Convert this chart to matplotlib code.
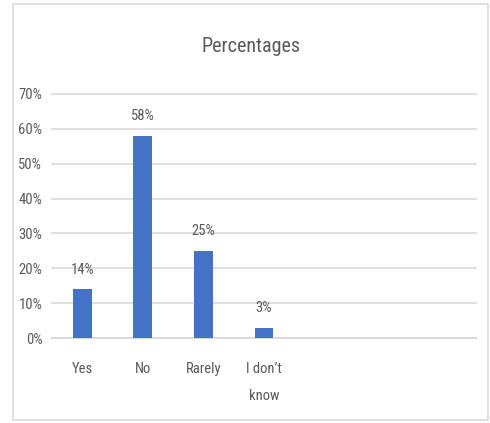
import matplotlib.pyplot as plt
from matplotlib.patches import Rectangle

# survey answers
categories = ['Yes', 'No', 'Rarely', 'I don\u2019t\nknow']
values = [0.14, 0.58, 0.25, 0.03]
n_slots = 7  # chart keeps 3 empty category slots on the right
yticks = [0, 0.1, 0.2, 0.3, 0.4, 0.5, 0.6, 0.7]

grey = '#595959'
plt.rcParams['font.family'] = ['Roboto Condensed', 'DejaVu Sans']

fig = plt.figure(figsize=(4.9, 4.23), dpi=100)
W, H = 490, 423

# outer chart border
fig.patches.append(Rectangle((13 / W, 3 / H), 475 / W, 416 / H, transform=fig.transFigure,
                             fill=False, edgecolor='#d9d9d9', linewidth=1.2))

ax = fig.add_axes([52 / W, 85 / H, 424 / W, 244 / H])
x = list(range(len(categories)))
bars = ax.bar(x, values, width=0.31, color='#4472c4', zorder=3)

for xi, v in zip(x, values):
    ax.annotate(f'{round(v * 100)}%', (xi, v), xytext=(0, 9), textcoords='offset points',
                ha='center', va='bottom', fontsize=10.5, color=grey)

ax.set_xlim(-0.5, n_slots - 0.5)
ax.set_ylim(0, 0.7)
ax.set_yticks(yticks)
ax.set_yticklabels([f'{round(t * 100)}%' for t in yticks])
ax.set_xticks(x)
ax.set_xticklabels(categories, linespacing=2.25, va='top')
ax.yaxis.grid(True, color='#d9d9d9', linewidth=1.2, zorder=0)
for gl in ax.get_ygridlines():
    gl.set_clip_on(False)
for s in ['top', 'right', 'left']:
    ax.spines[s].set_visible(False)
ax.spines['bottom'].set_color('#d9d9d9')
ax.spines['bottom'].set_linewidth(1.2)
ax.tick_params(axis='both', length=0, labelsize=10.5, labelcolor=grey)
ax.tick_params(axis='y', pad=7)
ax.tick_params(axis='x', pad=17)

fig.text(251 / W, (H - 46) / H, 'Percentages', ha='center', va='center',
         fontsize=14.5, color=grey)

fig.savefig('out.png', dpi=100)
